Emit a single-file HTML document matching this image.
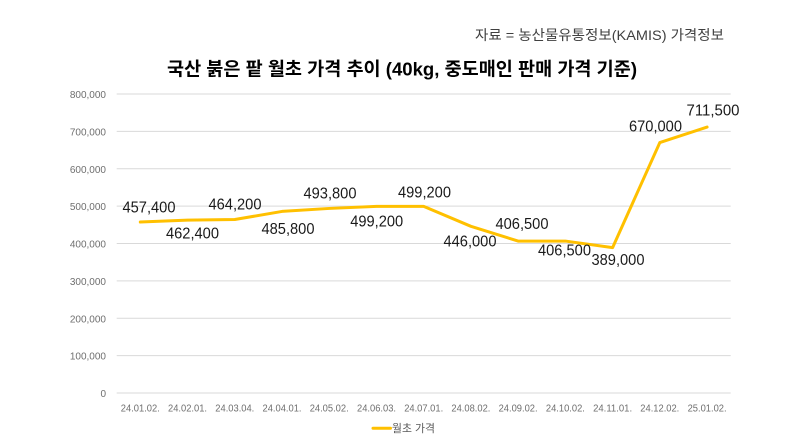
<!DOCTYPE html>
<html>
<head>
<meta charset="utf-8">
<style>
  html, body { margin: 0; padding: 0; background: #ffffff; }
  body { width: 800px; height: 448px; overflow: hidden; }
  svg { display: block; }
  .kr { font-family: "Liberation Sans", "Noto Sans CJK KR", sans-serif; }
</style>
</head>
<body>
<svg width="800" height="448" viewBox="0 0 800 448" xmlns="http://www.w3.org/2000/svg">
  <rect x="0" y="0" width="800" height="448" fill="#ffffff"/>

  <!-- source -->
  <text class="kr" x="475" y="40" font-size="14" fill="#404040" textLength="249" lengthAdjust="spacingAndGlyphs">자료 = 농산물유통정보(KAMIS) 가격정보</text>

  <!-- title -->
  <text class="kr" x="167" y="75.5" font-size="18.5" font-weight="bold" fill="#000000" textLength="470" lengthAdjust="spacingAndGlyphs">국산 붉은 팥 월초 가격 추이 (40kg, 중도매인 판매 가격 기준)</text>

  <!-- gridlines -->
  <g stroke="#D9D9D9" stroke-width="1">
    <line x1="116.7" y1="94" x2="730.7" y2="94"/>
    <line x1="116.7" y1="131.4" x2="730.7" y2="131.4"/>
    <line x1="116.7" y1="168.8" x2="730.7" y2="168.8"/>
    <line x1="116.7" y1="206.1" x2="730.7" y2="206.1"/>
    <line x1="116.7" y1="243.5" x2="730.7" y2="243.5"/>
    <line x1="116.7" y1="280.9" x2="730.7" y2="280.9"/>
    <line x1="116.7" y1="318.3" x2="730.7" y2="318.3"/>
    <line x1="116.7" y1="355.6" x2="730.7" y2="355.6"/>
    <line x1="116.7" y1="393" x2="730.7" y2="393"/>
  </g>

  <!-- y axis labels -->
  <g class="kr" font-size="10" fill="#6f6f6f" text-anchor="end">
    <text x="106" y="98">800,000</text>
    <text x="106" y="135.4">700,000</text>
    <text x="106" y="172.8">600,000</text>
    <text x="106" y="210.1">500,000</text>
    <text x="106" y="247.5">400,000</text>
    <text x="106" y="284.9">300,000</text>
    <text x="106" y="322.3">200,000</text>
    <text x="106" y="359.6">100,000</text>
    <text x="106" y="397">0</text>
  </g>

  <!-- x axis labels -->
  <g class="kr" font-size="10" fill="#6f6f6f" text-anchor="middle">
    <text x="140.3" y="411.5" textLength="39" lengthAdjust="spacingAndGlyphs">24.01.02.</text>
    <text x="187.5" y="411.5" textLength="39" lengthAdjust="spacingAndGlyphs">24.02.01.</text>
    <text x="234.8" y="411.5" textLength="39" lengthAdjust="spacingAndGlyphs">24.03.04.</text>
    <text x="282.0" y="411.5" textLength="39" lengthAdjust="spacingAndGlyphs">24.04.01.</text>
    <text x="329.2" y="411.5" textLength="39" lengthAdjust="spacingAndGlyphs">24.05.02.</text>
    <text x="376.5" y="411.5" textLength="39" lengthAdjust="spacingAndGlyphs">24.06.03.</text>
    <text x="423.7" y="411.5" textLength="39" lengthAdjust="spacingAndGlyphs">24.07.01.</text>
    <text x="470.9" y="411.5" textLength="39" lengthAdjust="spacingAndGlyphs">24.08.02.</text>
    <text x="518.1" y="411.5" textLength="39" lengthAdjust="spacingAndGlyphs">24.09.02.</text>
    <text x="565.4" y="411.5" textLength="39" lengthAdjust="spacingAndGlyphs">24.10.02.</text>
    <text x="612.6" y="411.5" textLength="39" lengthAdjust="spacingAndGlyphs">24.11.01.</text>
    <text x="659.8" y="411.5" textLength="39" lengthAdjust="spacingAndGlyphs">24.12.02.</text>
    <text x="707.1" y="411.5" textLength="39" lengthAdjust="spacingAndGlyphs">25.01.02.</text>
  </g>

  <!-- series line -->
  <polyline fill="none" stroke="#FFC000" stroke-width="3" stroke-linejoin="round" stroke-linecap="round"
    points="140.3,222.05 187.5,220.18 234.8,219.51 282.0,211.43 329.2,208.44 376.5,206.42 423.7,206.42 470.9,226.31 518.1,241.07 565.4,241.07 612.6,247.61 659.8,142.59 707.1,127.08"/>

  <!-- data labels -->
  <g class="kr" font-size="16" fill="#1a1a1a" text-anchor="middle">
    <text x="149" y="212.7" textLength="53" lengthAdjust="spacingAndGlyphs">457,400</text>
    <text x="192.5" y="238.3" textLength="53" lengthAdjust="spacingAndGlyphs">462,400</text>
    <text x="235" y="209.3" textLength="53" lengthAdjust="spacingAndGlyphs">464,200</text>
    <text x="288" y="234" textLength="53" lengthAdjust="spacingAndGlyphs">485,800</text>
    <text x="330" y="198.3" textLength="53" lengthAdjust="spacingAndGlyphs">493,800</text>
    <text x="376.7" y="226.7" textLength="53" lengthAdjust="spacingAndGlyphs">499,200</text>
    <text x="424.5" y="197.3" textLength="53" lengthAdjust="spacingAndGlyphs">499,200</text>
    <text x="470" y="246.7" textLength="53" lengthAdjust="spacingAndGlyphs">446,000</text>
    <text x="522" y="229" textLength="53" lengthAdjust="spacingAndGlyphs">406,500</text>
    <text x="564.5" y="255.7" textLength="53" lengthAdjust="spacingAndGlyphs">406,500</text>
    <text x="618" y="265" textLength="53" lengthAdjust="spacingAndGlyphs">389,000</text>
    <text x="655.5" y="131.7" textLength="53" lengthAdjust="spacingAndGlyphs">670,000</text>
    <text x="713" y="115.7" textLength="53" lengthAdjust="spacingAndGlyphs">711,500</text>
  </g>

  <!-- legend -->
  <line x1="373" y1="428.3" x2="390.5" y2="428.3" stroke="#FFC000" stroke-width="3" stroke-linecap="round"/>
  <text class="kr" x="392" y="432" font-size="11" fill="#595959" textLength="43" lengthAdjust="spacingAndGlyphs">월초 가격</text>
</svg>
</body>
</html>
